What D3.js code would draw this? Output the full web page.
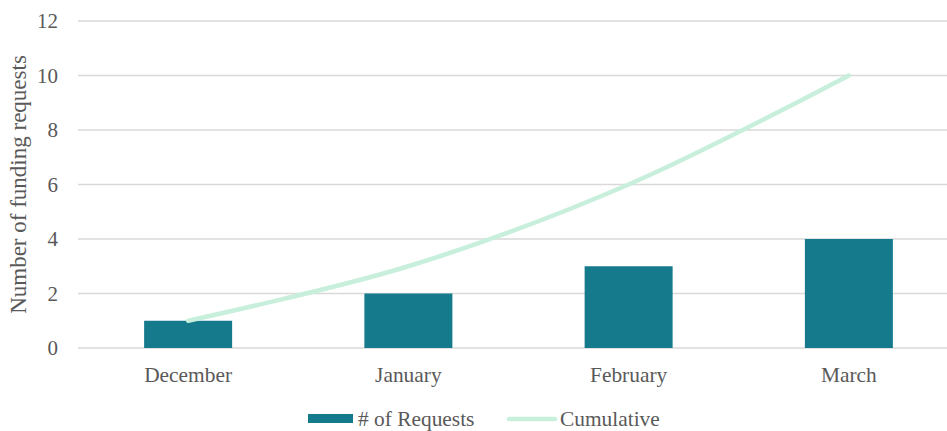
<!DOCTYPE html>
<html>
<head>
<meta charset="utf-8">
<script src="https://cdn.jsdelivr.net/npm/d3@7"></script>
<style>
  body { margin: 0; background: #fff; overflow: hidden; }
  svg text { font-family: "Liberation Serif", "Times New Roman", serif; fill: #595959; }
</style>
</head>
<body>
<div id="chart"></div>
<script>
const months = ['December', 'January', 'February', 'March'];
const requests = [1, 2, 3, 4];
const cumulative = [1, 3, 6, 10];
const yTicks = [0, 2, 4, 6, 8, 10, 12];

const width = 947, height = 431;
// the plot runs a little past the right edge of the picture
const margin = {top: 21, right: -12, bottom: 83, left: 78};
const innerW = width - margin.left - margin.right;
const innerH = height - margin.top - margin.bottom;

const svg = d3.select('#chart').append('svg')
  .attr('width', width)
  .attr('height', height);

const g = svg.append('g')
  .attr('transform', 'translate(' + margin.left + ',' + margin.top + ')');

const xCenter = d3.scalePoint()
  .domain(months)
  .range([0, innerW])
  .padding(0.5);

const y = d3.scaleLinear()
  .domain([0, 12])
  .range([innerH, 0]);

// gridlines
g.append('g')
  .selectAll('line')
  .data(yTicks)
  .enter().append('line')
  .attr('x1', 0)
  .attr('x2', innerW)
  .attr('y1', d => y(d))
  .attr('y2', d => y(d))
  .attr('stroke', '#d9d9d9')
  .attr('stroke-width', 1.3);

// y tick labels
g.append('g')
  .selectAll('text')
  .data(yTicks)
  .enter().append('text')
  .attr('x', -20)
  .attr('y', d => y(d))
  .attr('dy', '0.35em')
  .attr('text-anchor', 'end')
  .style('font-size', '21px')
  .text(d => d);

// x labels
g.append('g')
  .selectAll('text')
  .data(months)
  .enter().append('text')
  .attr('x', d => xCenter(d))
  .attr('y', innerH + 34)
  .attr('text-anchor', 'middle')
  .style('font-size', '21.4px')
  .text(d => d);

// y axis title
svg.append('text')
  .attr('transform', 'translate(26,' + (margin.top + innerH / 2) + ') rotate(-90)')
  .attr('text-anchor', 'middle')
  .style('font-size', '23px')
  .text('Number of funding requests');

// bars
const barW = 88;
g.append('g')
  .selectAll('rect')
  .data(months)
  .enter().append('rect')
  .attr('x', d => xCenter(d) - barW / 2)
  .attr('y', (d, i) => y(requests[i]))
  .attr('width', barW)
  .attr('height', (d, i) => innerH - y(requests[i]))
  .attr('fill', '#157a8c');

// cumulative line
const line = d3.line()
  .x((d, i) => xCenter(months[i]))
  .y(d => y(d))
  .curve(d3.curveCatmullRom.alpha(0.5));

g.append('path')
  .datum(cumulative)
  .attr('d', line)
  .attr('fill', 'none')
  .attr('stroke', '#c8efdb')
  .attr('stroke-width', 4.5)
  .attr('stroke-linecap', 'round');

// legend
const legend = svg.append('g');
legend.append('rect')
  .attr('x', 308).attr('y', 414)
  .attr('width', 45).attr('height', 9)
  .attr('fill', '#157a8c');
legend.append('text')
  .attr('x', 358).attr('y', 419)
  .attr('dy', '0.35em')
  .style('font-size', '21.4px')
  .text('# of Requests');
legend.append('line')
  .attr('x1', 509).attr('x2', 555)
  .attr('y1', 419).attr('y2', 419)
  .attr('stroke', '#c8efdb')
  .attr('stroke-width', 4.5)
  .attr('stroke-linecap', 'round');
legend.append('text')
  .attr('x', 560).attr('y', 419)
  .attr('dy', '0.35em')
  .style('font-size', '21.4px')
  .text('Cumulative');
</script>
</body>
</html>
